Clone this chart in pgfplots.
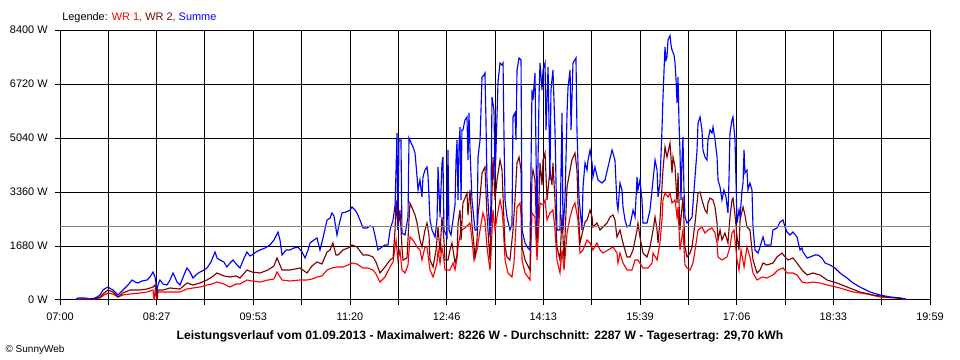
\documentclass[border=0pt]{standalone}
\usepackage{pgfplots}
\pgfplotsset{compat=1.18}
\usepackage{fontspec}
\setmainfont{Liberation Sans}
\definecolor{wrone}{RGB}{255,0,0}
\definecolor{wrtwo}{RGB}{128,0,0}
\definecolor{summe}{RGB}{0,0,255}
\definecolor{avg}{RGB}{128,128,128}
\begin{document}
\begin{tikzpicture}
\useasboundingbox (0,0) rectangle (720pt,270pt);
\begin{axis}[
  at={(45pt,45pt)}, anchor=south west,
  scale only axis, width=652.5pt, height=202.5pt,
  xmin=0, xmax=779, ymin=0, ymax=8400,
  xtick={0,43.28,86.56,129.83,173.11,216.39,259.67,302.94,346.22,389.5,432.78,476.06,519.33,562.61,605.89,649.17,692.44,735.72,779},
  xticklabels={07:00,{},08:27,{},09:53,{},11:20,{},12:46,{},14:13,{},15:39,{},17:06,{},18:33,{},19:59},
  ytick={0,1680,3360,5040,6720,8400},
  yticklabels={0 W,1680 W,3360 W,5040 W,6720 W,8400 W},
  grid=major, major grid style={black, line width=0.75pt},
  axis line style={black, line width=0.75pt},
  tick style={black, line width=0.75pt},
  major tick length=3.75pt, tick align=outside,
  xtick pos=lower, ytick pos=left,
  ticklabel style={font=\fontsize{8.2}{9.8}\selectfont},
  xticklabel style={yshift=-2.5pt},
  yticklabel style={xshift=-2pt},
]
\addplot[wrone, line width=0.85pt] coordinates {
(13.4,0) (22.4,0) (35.8,62) (39.4,156) (43.0,218) (47.5,187) (51.9,93) (56.4,156) (62.7,187) (71.6,218)
(77.9,249) (83.3,311) (84.2,0) (85.1,280) (86.9,0) (87.7,249) (92.2,249) (98.5,249) (107.4,249) (113.7,342)
(119.1,373) (125.4,404) (131.6,467) (136.1,498) (140.6,560) (146.8,498) (152.2,404) (157.6,498) (161.2,498) (167.4,622)
(171.9,591) (179.1,560) (186.2,622) (191.6,653) (194.3,871) (198.8,622) (205.9,591) (214.9,622) (221.2,622) (225.6,653)
(230.1,716) (234.6,747) (239.1,933) (243.5,996) (248.0,1027) (253.4,1027) (257.9,1089) (261.5,1151) (265.9,1120) (271.3,996)
(275.8,996) (280.3,933) (282.9,809) (286.5,560) (291.0,716) (295.5,1027) (298.2,1182) (300.0,1649) (300.9,1867) (302.6,1244)
(304.4,1556) (306.2,933) (308.9,840) (311.6,1089) (313.4,1960) (316.1,1867) (319.7,1649) (322.3,1556) (324.1,1244) (326.8,1649)
(328.6,1649) (331.3,933) (334.0,716) (337.6,1151) (338.5,1556) (340.3,1151) (342.0,1649) (343.8,1244) (344.7,933) (349.2,933)
(351.9,1151) (353.7,933) (355.5,1307) (356.4,1649) (358.2,2022) (359.9,2178) (362.6,2240) (367.1,2395) (368.9,1867) (370.7,1244)
(373.4,1556) (376.1,2178) (378.7,2707) (380.5,2489) (382.3,1649) (385.0,933) (385.9,1400) (387.7,2800) (389.5,2178) (391.3,2582)
(394.0,3111) (395.8,2800) (396.7,2395) (398.5,1244) (401.1,840) (404.7,716) (406.5,1151) (409.2,2893) (411.9,3018) (412.8,2644)
(413.7,1244) (416.4,840) (420.8,622) (422.6,2707) (425.3,2582) (427.1,1244) (429.8,3018) (432.5,2955) (434.3,3111) (436.1,2489)
(438.7,2707) (441.4,2800) (443.2,2178) (445.0,1244) (447.7,840) (449.5,1556) (451.3,933) (454.0,2084) (456.7,2582) (459.3,2893)
(461.1,3018) (463.8,2489) (465.6,1462) (468.3,1556) (471.9,1867) (474.6,1773) (477.2,1556) (480.8,1773) (483.5,1556) (486.2,1462)
(490.7,1556) (495.2,1649) (498.7,1462) (499.6,1151) (501.4,1462) (504.1,1151) (507.7,933) (512.2,933) (514.9,1244) (517.5,1244)
(522.0,996) (526.5,996) (530.1,1151) (531.0,1462) (534.6,1244) (537.2,1773) (539.0,2489) (539.9,3111) (541.7,3329) (544.4,3204)
(546.2,3329) (548.0,3018) (550.7,3111) (552.5,2582) (553.4,2893) (555.1,1556) (557.8,2178) (559.6,1089) (561.4,996) (564.1,933)
(566.8,1151) (568.6,1556) (571.3,2178) (574.8,2271) (577.5,2084) (580.2,2178) (583.8,2240) (586.5,2084) (588.3,1773) (589.2,1338)
(592.7,1244) (597.2,1338) (599.9,1649) (601.7,2084) (603.5,2178) (606.2,1244) (608.0,933) (609.8,1556) (612.5,1027) (615.1,1649)
(617.8,1338) (620.5,840) (624.1,622) (628.6,716) (633.0,684) (638.4,778) (642.9,933) (647.4,996) (651.0,840) (656.3,840)
(659.9,778) (664.4,560) (668.9,529) (674.2,560) (680.5,529) (686.8,467) (698.4,373) (710.1,249) (722.6,187) (734.2,93)
(747.7,62) (754.8,31) (757.5,0)
};
\addplot[wrtwo, line width=0.85pt] coordinates {
(13.4,0) (17.9,31) (31.3,31) (35.8,93) (39.4,218) (43.0,311) (47.5,249) (51.9,93) (56.4,218) (62.7,311)
(71.6,311) (77.9,342) (83.3,404) (85.1,467) (86.9,93) (87.7,311) (92.2,311) (98.5,373) (107.4,342) (113.7,529)
(119.1,467) (125.4,529) (131.6,622) (136.1,716) (140.6,840) (146.8,747) (152.2,716) (157.6,747) (161.2,684) (167.4,933)
(171.9,871) (179.1,840) (186.2,933) (191.6,1058) (194.3,1307) (198.8,933) (205.9,933) (214.9,996) (221.2,840) (225.6,1058)
(230.1,1182) (234.6,1120) (239.1,1493) (241.8,1556) (244.4,1773) (247.1,1400) (248.9,1400) (253.4,1556) (257.9,1618) (261.5,1711)
(265.9,1649) (271.3,1400) (275.8,1400) (280.3,1338) (282.9,1182) (286.5,840) (291.0,1027) (295.5,1244) (298.2,1307) (300.0,2178)
(300.9,3111) (302.6,2178) (304.4,2800) (306.2,1649) (307.1,1244) (310.7,1307) (312.5,2489) (313.4,3018) (316.1,2800) (317.9,2644)
(319.7,2395) (322.3,1867) (324.1,1649) (326.8,2178) (328.6,2395) (330.4,2022) (331.3,1244) (334.0,1027) (336.7,1556) (338.5,2271)
(340.3,1462) (342.0,2582) (343.8,1867) (344.7,1244) (347.4,1244) (349.2,1556) (351.0,1773) (353.7,1151) (355.5,1400) (356.4,2395)
(358.2,2800) (359.1,1867) (360.8,3018) (362.6,3173) (364.4,3329) (365.3,2644) (367.1,3422) (368.9,2333) (371.6,1338) (373.4,1867)
(374.3,2644) (376.1,3204) (377.9,3951) (380.5,4138) (382.3,2644) (385.0,1244) (385.9,2178) (387.7,4449) (389.5,3111) (391.3,3733)
(394.0,4355) (395.8,4044) (396.7,3204) (398.5,1649) (400.2,1338) (402.9,1244) (405.6,2178) (407.4,3111) (409.2,4262) (411.0,4449)
(412.8,4044) (413.7,1649) (416.4,1244) (420.8,933) (422.6,3827) (423.5,4044) (425.3,3733) (427.1,1773) (428.9,3111) (429.8,4262)
(431.6,3578) (432.5,4355) (434.3,4573) (436.1,3111) (438.7,4044) (440.5,3578) (441.4,4262) (443.2,3111) (445.0,1649) (447.7,1244)
(449.5,2644) (451.3,1244) (454.0,3515) (456.7,4044) (458.4,4355) (461.1,4573) (462.9,4044) (463.8,3018) (465.6,1773) (468.3,2178)
(470.1,2427) (471.9,2489) (474.6,2800) (476.4,2582) (477.2,2271) (480.8,2395) (483.5,2178) (486.2,2271) (489.8,2395) (492.5,2582)
(495.2,2644) (496.9,2489) (498.7,1960) (501.4,2178) (504.1,1773) (507.7,1338) (510.4,1338) (513.1,1556) (516.7,2178) (517.5,2395)
(519.3,1960) (522.0,1462) (525.6,1338) (528.3,1649) (531.0,2178) (532.8,2582) (534.6,2178) (535.5,1773) (537.2,2489) (539.0,3515)
(539.9,4044) (541.7,4760) (543.5,4449) (546.2,4884) (548.0,3951) (548.9,4449) (550.7,4138) (552.5,3018) (553.4,3951) (555.1,2178)
(557.8,3204) (559.6,1649) (561.4,1338) (564.1,1462) (565.9,1649) (568.6,2395) (570.4,3018) (571.3,3329) (573.1,3360) (574.8,3111)
(577.5,2800) (579.3,2707) (580.2,3018) (582.0,3173) (584.7,3111) (586.5,2893) (588.3,2395) (589.2,1867) (591.0,2178) (592.7,1867)
(595.4,2084) (598.1,1773) (599.9,2582) (601.7,3111) (602.6,3173) (604.4,2644) (606.2,1960) (608.0,1556) (608.9,2489) (611.6,2893)
(613.3,2644) (615.1,2271) (617.8,2178) (620.5,1244) (624.1,840) (626.8,933) (629.5,1151) (633.0,1089) (638.4,1151) (642.0,1338)
(646.5,1462) (649.2,1338) (651.9,1244) (656.3,1307) (659.9,1151) (664.4,933) (668.9,778) (674.2,840) (680.5,778) (686.8,622)
(695.7,529) (704.7,404) (716.3,249) (728.0,156) (740.5,93) (752.1,62) (756.6,31) (757.5,0)
};
\addplot[summe, line width=0.85pt] coordinates {
(13.4,0) (16.1,62) (22.4,62) (26.9,31) (31.3,62) (33.1,93) (35.8,156) (38.5,311) (41.2,373) (43.0,404)
(45.7,342) (47.5,311) (50.1,218) (51.9,156) (54.6,249) (56.4,311) (60.9,467) (64.5,622) (67.2,560) (69.8,529)
(73.4,591) (77.9,622) (80.6,716) (83.3,871) (85.1,716) (86.9,311) (87.7,467) (89.5,622) (92.2,498) (95.8,467)
(98.5,622) (101.2,840) (104.8,560) (107.4,467) (111.0,778) (113.7,996) (116.4,871) (119.1,684) (122.7,809) (125.4,871)
(128.9,933) (131.6,996) (135.2,1182) (138.8,1493) (140.6,1307) (143.3,1244) (146.8,1182) (149.5,1027) (152.2,1151) (154.9,1244)
(158.5,1089) (161.2,996) (164.8,1307) (167.4,1493) (170.1,1369) (171.9,1400) (175.5,1493) (179.1,1556) (183.6,1618) (188.0,1711)
(191.6,1867) (195.2,2115) (197.0,1867) (198.8,1400) (202.4,1556) (205.9,1556) (209.5,1618) (213.1,1649) (216.7,1493) (219.4,1307)
(222.1,1556) (223.9,1773) (227.4,1867) (230.1,1929) (232.8,1556) (235.5,1929) (239.1,2489) (241.8,2551) (243.5,2707) (245.3,2613)
(248.0,2022) (249.8,2333) (252.5,2707) (256.1,2738) (259.7,2800) (261.5,2893) (264.1,2800) (265.9,2707) (268.6,2489) (271.3,2240)
(274.9,2240) (277.6,2302) (280.3,2271) (282.9,1867) (284.7,1556) (288.3,1649) (291.0,1711) (293.7,1711) (295.5,2178) (298.2,2489)
(300.0,2955) (300.9,4044) (301.7,5195) (302.6,2178) (303.5,4978) (305.3,4978) (306.2,2084) (308.9,2022) (311.6,2582) (312.5,5040)
(315.2,4822) (316.1,4760) (317.9,4573) (319.7,3827) (320.6,3422) (322.3,3733) (324.1,3204) (325.0,3827) (326.8,4044) (328.6,4138)
(329.5,3889) (330.4,3204) (331.3,2489) (333.1,2178) (335.8,1960) (337.6,2489) (338.5,4138) (340.3,2582) (342.0,4262) (342.9,4449)
(343.8,2178) (346.5,1960) (347.4,4667) (348.3,2178) (350.1,2022) (351.9,2489) (353.7,2955) (354.6,4355) (355.5,4978) (356.4,3111)
(357.3,4822) (358.2,5382) (359.1,3111) (359.9,5289) (360.8,5289) (362.6,5600) (364.4,5693) (365.3,4355) (366.2,5818) (367.1,4667)
(368.9,3111) (370.7,2489) (371.6,2178) (373.4,2178) (374.3,4449) (376.1,4978) (377.9,6938) (379.6,7000) (380.5,7062) (381.4,5600)
(382.3,3733) (383.2,3111) (385.0,1960) (385.9,3111) (386.8,6315) (388.6,5911) (389.5,3733) (390.4,4667) (392.2,6782) (394.0,7373)
(395.8,7311) (396.7,7373) (397.6,4978) (398.5,3111) (400.2,2582) (402.9,2178) (404.7,2333) (405.6,5693) (407.4,5818) (408.3,4978)
(409.2,7155) (411.0,7529) (412.8,7467) (413.7,2178) (416.4,1773) (419.0,1618) (420.8,1556) (422.6,6533) (423.5,6222) (425.3,7062)
(426.2,4667) (427.1,2178) (428.9,6315) (429.8,7373) (431.6,6533) (432.5,7155) (434.3,7373) (435.2,5289) (437.0,7249) (438.7,3733)
(439.6,6533) (441.4,7155) (443.2,5289) (445.0,2178) (447.7,2178) (449.5,5818) (450.4,2178) (452.2,3111) (454.0,5818) (454.9,6626)
(456.7,7155) (457.6,5289) (459.3,7373) (462.0,7529) (462.9,5289) (464.7,3204) (467.4,2178) (468.3,3515) (470.1,4262) (471.9,4044)
(472.8,4355) (474.6,4667) (476.4,4262) (477.2,3827) (479.0,4138) (481.7,3733) (485.3,3640) (488.0,3733) (490.7,4138) (494.3,4667)
(496.9,4355) (498.7,3018) (499.6,2800) (501.4,3640) (503.2,3422) (504.1,2893) (505.9,2489) (507.7,2271) (510.4,2333) (513.1,2800)
(514.9,2582) (516.7,3827) (517.5,3422) (519.3,3733) (521.1,3111) (522.0,2395) (525.6,2395) (528.3,2800) (530.1,3422) (531.0,3733)
(532.8,4355) (534.6,4044) (535.5,3204) (537.2,3640) (539.0,5289) (539.9,6315) (541.7,7871) (542.6,7467) (543.5,7560) (544.4,8089)
(546.2,8226) (547.1,7933) (548.0,7778) (549.8,7622) (550.7,7373) (551.6,6844) (552.5,6129) (553.4,6938) (554.2,5600) (555.1,4667)
(556.0,3111) (556.9,4355) (557.8,5071) (558.7,3422) (559.6,2582) (561.4,2395) (564.1,2489) (565.9,2582) (568.6,3827) (570.4,4667)
(571.3,5506) (573.1,5693) (574.8,5289) (575.7,4667) (577.5,4449) (579.3,4355) (580.2,4978) (582.0,5289) (583.8,5195) (584.7,5382)
(586.5,4978) (588.3,4449) (589.2,3733) (591.0,3515) (592.7,3111) (594.5,3422) (596.3,3204) (598.1,2707) (599.0,3733) (599.9,5195)
(601.7,5600) (602.6,5693) (604.4,4978) (606.2,2395) (608.0,2800) (608.9,2582) (610.7,3422) (611.6,3640) (612.5,4667) (613.3,3951)
(615.1,4044) (616.0,3422) (617.8,3640) (619.6,3422) (620.5,2271) (622.3,1556) (625.0,1462) (626.8,1649) (628.6,1867) (629.5,1960)
(631.3,1711) (633.9,1711) (636.6,1711) (638.4,2178) (642.0,2240) (644.7,2427) (647.4,2489) (649.2,2271) (651.0,2115) (653.6,2022)
(656.3,2115) (659.9,1960) (662.6,1556) (664.4,1618) (665.3,1493) (668.9,1307) (671.6,1338) (676.0,1400) (678.7,1400) (682.3,1307)
(685.0,1151) (689.5,1089) (693.9,996) (698.4,840) (704.7,684) (710.1,529) (716.3,404) (725.3,249) (734.2,156) (743.2,93)
(752.1,62) (756.6,31) (757.5,0)
};
\addplot[avg, line width=1.3pt] coordinates {(0,2287) (779,2287)};
\end{axis}
\node[anchor=west, inner sep=0pt, font=\fontsize{8.2}{9.8}\selectfont] at (46.5pt,256.8pt)
  {Legende: \textcolor{wrone}{WR 1,} \textcolor{wrtwo}{WR 2,} \textcolor{summe}{Summe}};
\node[inner sep=0pt, font=\bfseries\fontsize{9.1}{11}\selectfont] at (360pt,17.5pt)
  {Leistungsverlauf vom 01.09.2013 - Maximalwert: 8226 W - Durchschnitt: 2287 W - Tagesertrag: 29,70 kWh};
\node[anchor=west, inner sep=0pt, font=\fontsize{7.5}{9}\selectfont] at (4pt,7.5pt) {\textcopyright{} SunnyWeb};
\end{tikzpicture}
\end{document}
